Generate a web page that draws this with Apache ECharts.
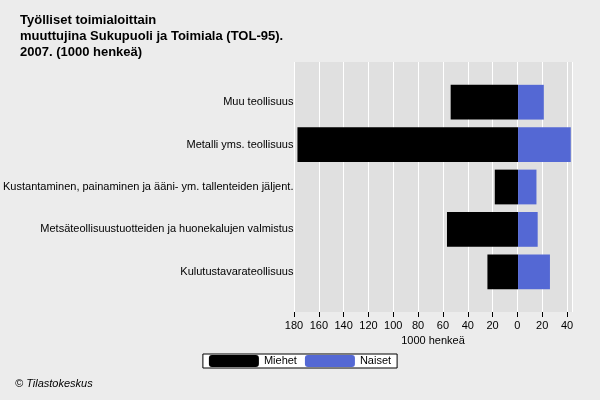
<!DOCTYPE html>
<html><head><meta charset="utf-8">
<script src="https://cdn.jsdelivr.net/npm/echarts@6/dist/echarts.min.js"></script>
<style>html,body{margin:0;padding:0;background:#fff}#c{width:600px;height:400px}</style>
</head><body><div id="c"></div>
<script>
const categories = ["Muu teollisuus","Metalli yms. teollisuus","Kustantaminen, painaminen ja ääni- ym. tallenteiden jäljent.","Metsäteollisuustuotteiden ja huonekalujen valmistus","Kulutustavarateollisuus"];
const miehet = [55, 180, 19, 58, 25];
const naiset = [21, 43, 15, 16, 26];
const chart = echarts.init(document.getElementById('c'));
chart.setOption({
  backgroundColor: '#ececec',
  animation: false,
  textStyle: {fontFamily: 'Arial, Liberation Sans, sans-serif'},
  title: {text: 'Työlliset toimialoittain\nmuuttujina Sukupuoli ja Toimiala (TOL-95).\n2007. (1000 henkeä)', left: 15, top: 7,
    textStyle: {fontSize: 13, fontWeight: 'bold', color: '#000', lineHeight: 16}},
  graphic: [{type: 'text', left: 15, top: 378, style: {text: '© Tilastokeskus', fontSize: 11, fontStyle: 'italic', fill: '#000'}}],
  legend: {bottom: 32, left: 'center', itemWidth: 50, itemHeight: 12, itemGap: 8, borderColor: '#000', borderWidth: 1, backgroundColor: '#fff', padding: [1, 6], textStyle: {fontSize: 11, color: '#000'}},
  grid: [
    {left: 294, right: 28, top: 62, bottom: 88, show: true, backgroundColor: '#e0e0e0', borderWidth: 0},
    {left: 294, right: 28, top: 81, bottom: 107, show: false}
  ],
  xAxis: [
    {gridIndex: 0, type: 'value', min: -180, max: 44, interval: 20, name: '1000 henkeä', nameLocation: 'middle', nameGap: 22, nameTextStyle: {fontSize: 11, color: '#000'},
     axisLabel: {formatter: v => Math.abs(v), fontSize: 11, color: '#000'},
     splitLine: {lineStyle: {color: '#fff'}}, axisLine: {show: false}, axisTick: {show: true, lineStyle: {color: '#000'}}},
    {gridIndex: 1, type: 'value', min: -180, max: 44, show: false}
  ],
  yAxis: [
    {gridIndex: 0, type: 'category', data: categories, show: false},
    {gridIndex: 1, type: 'category', data: categories, inverse: true,
     axisLabel: {fontSize: 11, color: '#000', margin: 4}, axisLine: {show: false}, axisTick: {show: false}, splitLine: {show: false}}
  ],
  series: [
    {name: 'Miehet', type: 'bar', stack: 's', xAxisIndex: 1, yAxisIndex: 1, data: miehet.map(v => -v), itemStyle: {color: '#000'}, barWidth: '82%'},
    {name: 'Naiset', type: 'bar', stack: 's', xAxisIndex: 1, yAxisIndex: 1, data: naiset, itemStyle: {color: '#5468d4'}, barWidth: '82%'}
  ]
});
</script></body></html>
